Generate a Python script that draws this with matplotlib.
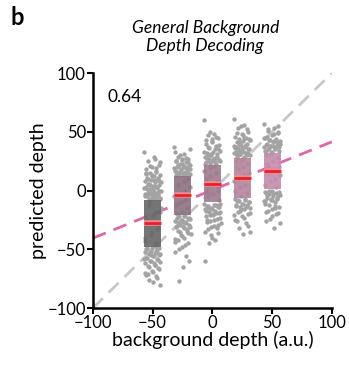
import numpy as np
import matplotlib.pyplot as plt

plt.rcParams['font.family'] = ['Lato', 'DejaVu Sans']

# background depth conditions
depths = [-50, -25, 0, 25, 50]

# box summaries per condition (lower quartile, median, upper quartile)
q_low = [-48, -21, -10, -6, 1]
q_med = [-28, -4, 6, 11, 17]
q_high = [-8, 12, 22, 28, 32]

# predicted depth of single trials
pred_m50 = [33, 27, 25, 22, 20, 18, 16, 15, 13, 12, 11, 10, 9, 8, 7, 6, 5, 4, 3, 2, 1, 0,
            -1, -2, -3, -4, -5, -6, -7, -7, -6, -4, -2, 0, 2, 4, 6, 8, 12, 14, 17,
            -7, -6, -5, -5, -4, -3, -3, -2, -1, 0, 1, 1, 3, 5, 7, 9, 10, 11, 13, 15, 19,
            21, 24, 29,
            -49, -50, -51, -52, -53, -54, -55, -56, -57, -58, -60, -61, -62, -64, -66, -68,
            -70, -73, -76, -80, -78, -50, -52, -55, -58, -63, -71,
            -49, -49, -50, -51, -53, -54, -56, -57, -59, -60, -62, -63, -65, -67, -69, -72, -74,
            -10, -15, -20, -25, -30, -35, -40, -45, -12, -18, -22, -28, -33, -38, -43, -47]
pred_m25 = [37, 31, 29, 27, 26, 25, 24, 23, 22, 21, 20, 19, 18, 17, 16, 15, 14, 13, 13, 14,
            16, 18, 20, 22, 24, 27, 33,
            13, 14, 14, 15, 16, 17, 18, 19, 20, 21, 22, 23, 25, 28, 30, 35,
            -22, -23, -24, -25, -26, -27, -28, -29, -30, -31, -33, -35, -37, -40, -42, -45,
            -48, -52, -56, -77, -24, -27, -30, -34, -38, -44,
            -22, -22, -23, -25, -26, -28, -29, -31, -32, -34, -36, -39, -41, -46, -50, -60, -65,
            -20, -15, -10, -5, 0, 5, 10, -18, -12, -7, -2, 3, 8]
pred_0 = [60, 48, 47, 45, 42, 40, 38, 36, 34, 33, 32, 31, 30, 29, 28, 27, 26, 25, 24, 23,
          23, 25, 27, 30, 35, 44,
          23, 24, 25, 26, 27, 28, 29, 31, 33, 35, 37, 39, 41, 43, 46, 50,
          -11, -12, -13, -14, -15, -16, -17, -18, -19, -20, -22, -24, -26, -28, -30, -33,
          -36, -40, -60, -12, -15, -18, -21, -25, -32, -38,
          -11, -12, -13, -14, -16, -17, -19, -21, -23, -25, -27, -29, -31, -35, -42, -45,
          -8, -3, 2, 7, 12, 17, 21, -5, 0, 5, 10, 15, 20]
pred_25 = [61, 56, 53, 50, 48, 46, 45, 44, 43, 42, 41, 40, 39, 38, 37, 36, 35, 34, 33, 32,
           31, 30, 29, 30, 32, 34, 36, 38, 40, 44, 47,
           29, 30, 31, 32, 33, 34, 35, 36, 37, 39, 41, 43, 45, 49, 52, 55,
           -7, -8, -9, -10, -11, -12, -13, -14, -15, -16, -18, -20, -22, -25, -28, -32,
           -35, -37, -9, -12, -16, -21,
           -7, -8, -10, -11, -13, -14, -17, -19, -23, -26, -30,
           -5, 0, 5, 10, 15, 20, 25, -2, 3, 8, 13, 18, 23, 27]
pred_50 = [57, 53, 51, 49, 47, 45, 44, 43, 42, 41, 40, 39, 38, 37, 36, 35, 34, 33, 34, 36,
           38, 40, 42, 46, 50,
           33, 34, 35, 36, 37, 38, 39, 41, 43, 45, 48, 52, 55,
           0, -1, -2, -3, -4, -5, -6, -7, -8, -9, -10, -12, -14, -16, -18, -20, -24, -28,
           -32, -2, -5, -8, -11, -15,
           0, -1, -3, -4, -6, -7, -9, -13, -17, -19, -22, -26,
           3, 8, 13, 18, 23, 28, 31, 5, 10, 15, 20, 25, 30]
preds = [pred_m50, pred_m25, pred_0, pred_25, pred_50]

# linear fit of prediction vs. true depth
fit_slope = 0.41
fit_icpt = 0.5
r_value = "0.64"

box_colors = ['#666666', '#8c7282', '#a07a90', '#b5859f', '#c58cac']

fig = plt.figure(figsize=(3.49, 3.69), dpi=100)
ax = fig.add_axes([0.266, 0.165, 0.685, 0.637])

ax.plot([-100, 100], [-100, 100], ls=(0, (5, 3)), color='#c8c8c8', lw=2, zorder=1)
xf = np.array([-100, 100])
ax.plot(xf, fit_slope * xf + fit_icpt, ls=(0, (5, 3)), color='#e066aa', lw=2, zorder=1)

half_w = 7
for d, vals, lo, med, hi, c in zip(depths, preds, q_low, q_med, q_high, box_colors):
    n = len(vals)
    jit = ((np.arange(n) * 0.6180339) % 1 - 0.5) * 2 * half_w
    ax.scatter(d + jit, vals, s=10, color='#a3a3a3', linewidths=0, zorder=2)
    ax.add_patch(plt.Rectangle((d - half_w, lo), 2 * half_w, hi - lo,
                               facecolor=c, edgecolor='none', alpha=0.9, zorder=3))
    ax.plot([d - half_w, d + half_w], [med, med], color='#f08a90', lw=4,
            solid_capstyle='butt', zorder=4)
    ax.plot([d - half_w, d + half_w], [med, med], color='#e8202a', lw=2,
            solid_capstyle='butt', zorder=5)

ax.text(-88, 80, r_value, fontsize=12.5, va='center', ha='left')

ax.set_xlim(-100, 100)
ax.set_ylim(-100, 100)
ax.set_xticks([-100, -50, 0, 50, 100])
ax.set_yticks([-100, -50, 0, 50, 100])
ax.tick_params(labelsize=12, width=1.5, length=4, pad=1)
for s in ['top', 'right']:
    ax.spines[s].set_visible(False)
for s in ['left', 'bottom']:
    ax.spines[s].set_linewidth(1.8)

ax.set_xlabel('background depth (a.u.)', fontsize=14, labelpad=0)
ax.set_ylabel('predicted depth', fontsize=14, labelpad=0)

fig.text(0.588, 0.90, 'General Background\nDepth Decoding', fontsize=12.5,
         style='italic', ha='center', va='center', linespacing=1.1)
fig.text(0.03, 0.985, 'b', fontsize=17, fontweight='bold', ha='left', va='top')

fig.savefig('out.png', dpi=100)
